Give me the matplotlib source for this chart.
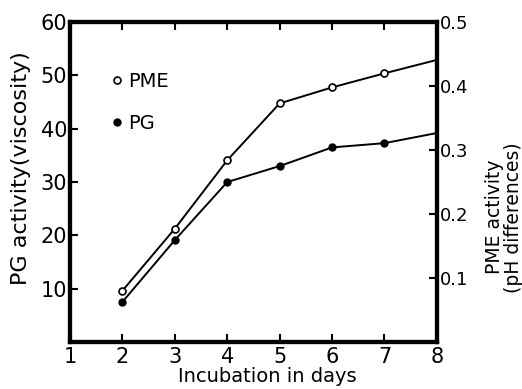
import matplotlib
matplotlib.use("Agg")
import matplotlib.pyplot as plt
from matplotlib.lines import Line2D

# incubation days
days = [2, 3, 4, 5, 6, 7]
# PG activity (viscosity), left axis
pg = [7.5, 19.1, 30.0, 33.0, 36.5, 37.3]
pg_end = 39.2          # line continues to day 8 without a marker
# PME activity (pH differences), right axis
pme = [0.080, 0.177, 0.284, 0.373, 0.398, 0.420]
pme_end = 0.441

plt.rcParams.update({"font.family": "DejaVu Sans"})
fig = plt.figure(figsize=(5.22, 3.89), dpi=100)
ax = fig.add_axes([0.134, 0.121, 0.703, 0.822])
ax2 = ax.twinx()

ax.plot(days + [8], pg + [pg_end], color="black", lw=1.4, zorder=3)
ax.plot(days, pg, "o", ms=5, mfc="black", mec="black", zorder=4)
ax2.plot(days + [8], pme + [pme_end], color="black", lw=1.4, zorder=3)
ax2.plot(days, pme, "o", ms=5, mfc="white", mec="black", mew=1.2, zorder=4)

ax.set_xlim(1, 8); ax.set_ylim(0, 60)
ax2.set_ylim(0, 0.5)
ax.set_xticks(range(1, 9))
ax.set_yticks([10, 20, 30, 40, 50, 60])
ax2.set_yticks([0.1, 0.2, 0.3, 0.4, 0.5])
ax2.set_yticklabels(["0.1", "0.2", "0.3", "0.4", "0.5"])

for a in (ax, ax2):
    for s in a.spines.values():
        s.set_linewidth(3)
ax.tick_params(axis="both", direction="in", length=6, width=1.5, labelsize=15,
               top=True, pad=4)
ax.tick_params(axis="y", pad=2)
ax2.tick_params(axis="y", direction="in", length=6, width=1.5, labelsize=13, pad=2)

ax.set_xlabel("Incubation in days", fontsize=14)
ax.xaxis.set_label_coords(0.537, -0.078)
ax.set_ylabel("PG activity(viscosity)", fontsize=16)
ax.yaxis.set_label_coords(-0.105, 0.545)
ax2.set_ylabel("PME activity\n(pH differences)", fontsize=13.5,
               rotation=90, linespacing=1.0)
ax2.yaxis.set_label_coords(1.13, 0.39)

handles = [Line2D([], [], ls="none", marker="o", ms=5, mfc="white", mec="black", mew=1.2),
           Line2D([], [], ls="none", marker="o", ms=5, mfc="black", mec="black")]
ax2.legend(handles, ["PME", "PG"], loc="upper left", bbox_to_anchor=(0.08, 0.87),
           frameon=False, fontsize=14, handletextpad=0.1, handlelength=1.0,
           labelspacing=1.2, borderaxespad=0)

fig.savefig("out.png", dpi=100)
